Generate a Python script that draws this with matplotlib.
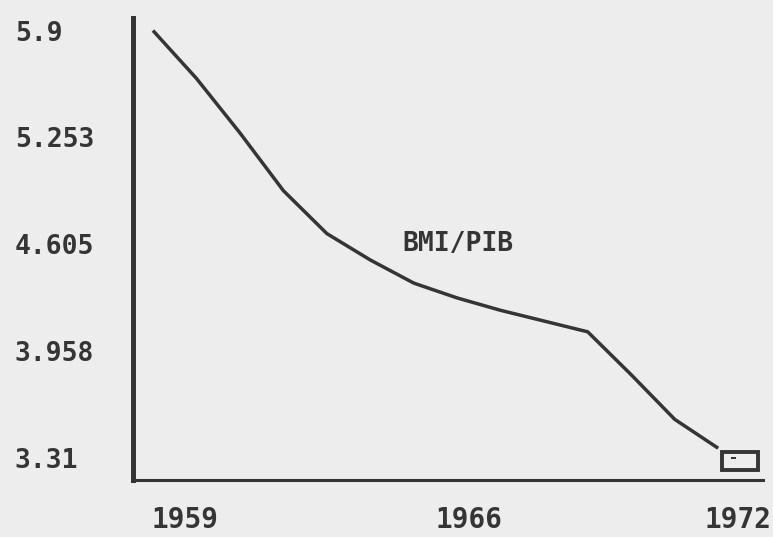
import matplotlib.pyplot as plt
from matplotlib.offsetbox import DrawingArea, AnnotationBbox
from matplotlib.patches import Rectangle

# BMI/PIB ratio by year
years = list(range(1959, 1973))
bmi_pib = [5.90, 5.61, 5.28, 4.93, 4.67, 4.51, 4.37,
           4.28, 4.205, 4.14, 4.075, 3.815, 3.545, 3.37]

ytick_vals = [5.9, 5.253, 4.605, 3.958, 3.31]
ytick_text = ["5.9", "5.253", "4.605", "3.958", "3.31"]
xlabels = ["1959", "1966", "1972"]
xlabel_pos = [0.0825, 0.533, 0.960]   # axes fraction, as printed

ink = "#353535"
paper = "#ededed"
mono = "DejaVu Sans Mono"

fig = plt.figure(figsize=(7.73, 5.37), dpi=100, facecolor=paper)
ax = fig.add_axes([0.172, 0.106, 0.815, 0.8605], facecolor=paper)

ax.plot(years, bmi_pib, color=ink, lw=2.5, solid_capstyle="butt")

ax.set_xlim(1958.54, 1973.03)
ax.set_ylim(3.177, 5.976)

for s in ("top", "right"):
    ax.spines[s].set_visible(False)
ax.spines["left"].set_linewidth(3.6)
ax.spines["bottom"].set_linewidth(2.2)
ax.spines["left"].set_color(ink)
ax.spines["bottom"].set_color(ink)

ax.set_xticks([])
ax.set_yticks(ytick_vals)
ax.set_yticklabels(ytick_text, fontfamily=mono, fontweight="bold",
                   fontsize=19, color=ink)
ax.tick_params(axis="y", length=0, pad=85)
for lab in ax.get_yticklabels():
    lab.set_horizontalalignment("left")

for txt, xp in zip(xlabels, xlabel_pos):
    ax.text(xp, -0.0866, txt, transform=ax.transAxes, ha="center", va="center",
            fontfamily=mono, fontweight="bold", fontsize=20, color=ink)

ax.text(0.516, 0.511, "BMI/PIB", transform=ax.transAxes, ha="center",
        va="center", fontfamily=mono, fontweight="bold", fontsize=19, color=ink)

# little end-of-curve box
da = DrawingArea(26, 13, 0, 0)
da.add_artist(Rectangle((0, 0), 26, 13, fc="none", ec=ink, lw=2.8))
da.add_artist(Rectangle((6, 8), 4, 1.5, fc=ink, ec="none"))
ab = AnnotationBbox(da, (years[-1], bmi_pib[-1]), xybox=(16, -9.4),
                    boxcoords="offset points", frameon=False, pad=0,
                    box_alignment=(0.5, 0.5))
ax.add_artist(ab)

fig.savefig("out.png", dpi=100, facecolor=paper)
